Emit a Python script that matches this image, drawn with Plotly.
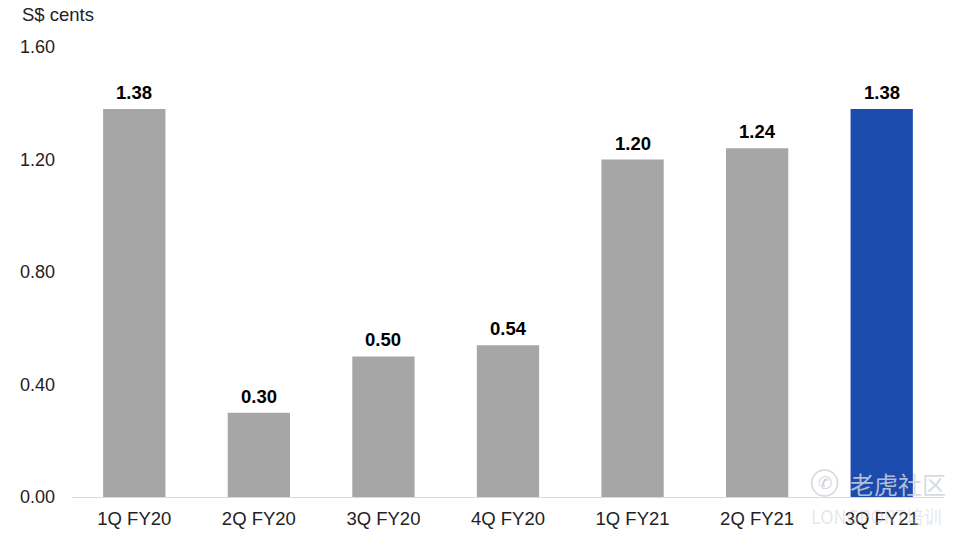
import plotly.graph_objects as go

categories = ["1Q FY20", "2Q FY20", "3Q FY20", "4Q FY20", "1Q FY21", "2Q FY21", "3Q FY21"]
values = [1.38, 0.30, 0.50, 0.54, 1.20, 1.24, 1.38]
labels = ["1.38", "0.30", "0.50", "0.54", "1.20", "1.24", "1.38"]
colors = ["#A6A6A6"] * 6 + ["#1C4BAE"]
ticks = [0, 0.4, 0.8, 1.2, 1.6]
tick_text = ["0.00", "0.40", "0.80", "1.20", "1.60"]

W, H = 964, 539
L, R, T, B = 71.5, 19.5, 47, 42
PW, PH = W - L - R, H - T - B


def px(x):
    return (x - L) / PW


def py(y):
    return (H - B - y) / PH


FONT = "Liberation Sans"
fig = go.Figure(go.Bar(
    x=categories, y=values, marker=dict(color=colors, line_width=0), width=0.5,
    hoverinfo="skip",
))

annotations = [dict(
    text=lab, x=c, y=v, xref="x", yref="y", yanchor="bottom", yshift=4, showarrow=False,
    font=dict(family=FONT, size=18.5, color="#000000", weight="bold"),
) for c, v, lab in zip(categories, values, labels)]

annotations.append(dict(
    text="S$ cents", x=px(19), y=py(14), xref="paper", yref="paper",
    xanchor="left", yanchor="middle", showarrow=False,
    font=dict(family=FONT, size=18.5, color="#222222"),
))
# faint watermark, bottom right
annotations.append(dict(
    text="老虎社区", x=px(848), y=py(483), xref="paper", yref="paper",
    xanchor="left", yanchor="middle", showarrow=False,
    font=dict(family="Noto Sans CJK SC", size=24, color="rgba(205,212,225,0.85)"),
))
annotations.append(dict(
    text="✆", x=px(825), y=py(483), xref="paper", yref="paper",
    xanchor="center", yanchor="middle", showarrow=False,
    font=dict(family="DejaVu Sans", size=17, color="rgba(190,197,210,0.85)"),
))
annotations.append(dict(
    text="LONGPORT培训", x=px(945), y=py(516), xref="paper", yref="paper",
    xanchor="right", yanchor="middle", showarrow=False,
    font=dict(family="Noto Sans CJK SC", size=18, color="rgba(190,195,205,0.4)"),
))

fig.update_layout(
    width=W, height=H, autosize=False, showlegend=False,
    paper_bgcolor="#FFFFFF", plot_bgcolor="#FFFFFF",
    margin=dict(l=L, r=R, t=T, b=B),
    font=dict(family=FONT, size=18.5, color="#222222"),
    annotations=annotations,
    shapes=[dict(
        type="circle", xref="paper", yref="paper",
        x0=px(812), x1=px(838), y0=py(496), y1=py(470),
        line=dict(color="rgba(200,205,215,0.8)", width=1.5),
    )],
)
fig.update_xaxes(showgrid=False, showline=True, linecolor="#D9D9D9", linewidth=1, ticks="",
                 ticklabelstandoff=5, tickfont_size=18.5, automargin=False)
fig.update_yaxes(range=[0, 1.6], tickvals=ticks, ticktext=tick_text, showgrid=False, zeroline=False,
                 showline=False, ticks="", ticklabelstandoff=16, tickfont_size=18, automargin=False)
fig.write_html("out.html", post_script="document.body.style.margin='0';",
               config={"displayModeBar": False})
